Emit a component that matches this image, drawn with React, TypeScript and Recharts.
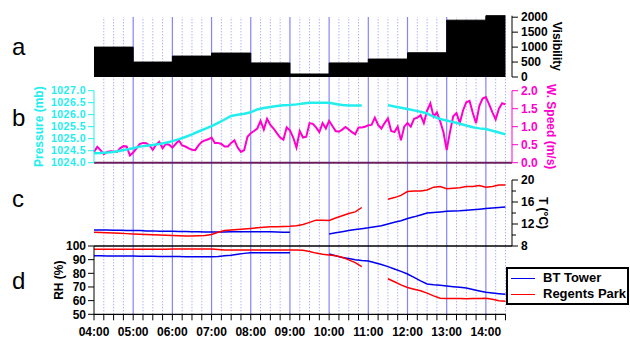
import { ComposedChart, Line, Area, XAxis, YAxis, ReferenceLine } from 'recharts';

const FONT = '"Liberation Sans", Arial, Helvetica, sans-serif';
const CYAN = '#22eeee';
const MAGENTA = '#ff00cc';
const BLUE = '#0000ee';
const RED = '#ff0000';
const PLUM = '#6b1f5f';

// time axis
const startTime = '04:00';
const endTime = '14:30';
const hourLabels = ['04:00', '05:00', '06:00', '07:00', '08:00', '09:00', '10:00', '11:00', '12:00', '13:00', '14:00'];

// hourly visibility (m)
const visibility = [1000, 500, 700, 800, 470, 100, 470, 600, 810, 1900, 2050];

// wind speed (m/s), 5-minute samples from 04:00
const windSpeed = [
    0.30, 0.44, 0.35, 0.24, 0.30, 0.32, 0.31, 0.30, 0.40, 0.46, 0.45, 0.20,
    0.28, 0.40, 0.52, 0.55, 0.54, 0.48, 0.36, 0.50, 0.58, 0.40, 0.52, 0.50,
    0.42, 0.52, 0.62, 0.48, 0.45, 0.40, 0.36, 0.35, 0.48, 0.58, 0.62, 0.65,
    0.70, 0.55, 0.55, 0.52, 0.45, 0.45, 0.55, 0.62, 0.42, 0.30, 0.35, 0.72,
    0.82, 0.88, 0.95, 1.16, 0.92, 1.22, 1.05, 0.95, 0.82, 0.70, 0.64, 0.98,
    0.90, 0.70, 0.42, 0.88, 0.70, 0.72, 1.10, 1.08, 0.98, 0.85, 1.10, 0.95,
    1.16, 1.02, 0.88, 0.86, 0.92, 0.99, 0.92, 0.85, 0.79, 0.98, 0.98, 1.00,
    1.04, 1.05, 1.25, 1.05, 0.95, 1.10, 1.23, 0.88, 0.85, 1.00, 0.62, 1.00,
    1.10, 1.00, 1.22, 1.25, 1.32, 1.10, 1.45, 1.65, 1.28, 1.40, 1.15, 0.85,
    0.35, 0.85, 1.29, 1.38, 1.10, 1.45, 1.68, 1.72, 1.38, 1.10, 1.58, 1.78,
    1.82, 1.62, 1.40, 1.20, 1.50, 1.65, 1.62,
];

// 10-minute samples from 04:00, one row per hour
const pressure = [
    1024.39, 1024.40, 1024.42, 1024.45, 1024.50, 1024.55,
    1024.60, 1024.67, 1024.71, 1024.74, 1024.78, 1024.83,
    1024.90, 1024.98, 1025.07, 1025.18, 1025.30, 1025.41,
    1025.52, 1025.66, 1025.80, 1025.95, 1026.00, 1026.04,
    1026.10, 1026.22, 1026.28, 1026.32, 1026.36, 1026.39,
    1026.40, 1026.43, 1026.47, 1026.50, 1026.50, 1026.50,
    1026.50, 1026.45, 1026.40, 1026.38, 1026.38, 1026.38,
    null, null, null, 1026.40, 1026.34, 1026.29,
    1026.24, 1026.18, 1026.12, 1026.05, 1025.92, 1025.82,
    1025.76, 1025.69, 1025.62, 1025.55, 1025.48, 1025.43,
    1025.40, 1025.33, 1025.26, 1025.18,
];

const btTowerT = [
    10.9, 10.9, 10.9, 10.85, 10.85, 10.8,
    10.8, 10.8, 10.75, 10.75, 10.7, 10.7,
    10.7, 10.65, 10.65, 10.6, 10.6, 10.55,
    10.55, 10.55, 10.55, 10.6, 10.6, 10.6,
    10.6, 10.6, 10.6, 10.6, 10.55, 10.5,
    10.5, null, null, null, null, null,
    10.2, 10.4, 10.6, 10.8, 11.0, 11.15,
    11.3, 11.5, 11.7, 12.0, 12.3, 12.6,
    13.0, 13.3, 13.65, 14.0, 14.1, 14.2,
    14.3, 14.35, 14.4, 14.5, 14.6, 14.7,
    14.8, 14.9, 15.0, 15.1,
];

const regentsParkT = [
    10.5, 10.45, 10.4, 10.35, 10.3, 10.25,
    10.2, 10.15, 10.1, 10.05, 10.0, 9.95,
    9.9, 9.85, 9.8, 9.8, 9.85, 9.9,
    10.1, 10.5, 10.8, 10.9, 11.0, 11.1,
    11.2, 11.3, 11.4, 11.5, 11.5, 11.55,
    11.6, 11.7, 11.9, 12.3, 12.7, 12.7,
    12.65, 13.1, 13.5, 13.9, 14.2, 15.0,
    null, null, null, 16.5, 16.8, 17.2,
    17.9, 18.0, 18.0, 18.2, 18.7, 18.8,
    18.4, 18.5, 18.6, 18.8, 18.8, 19.0,
    18.7, 18.8, 19.1, 19.1,
];

const btTowerRH = [
    92.8, 92.8, 92.7, 92.7, 92.6, 92.6,
    92.6, 92.5, 92.5, 92.5, 92.4, 92.4,
    92.3, 92.3, 92.2, 92.2, 92.2, 92.2,
    92.2, 92.4, 92.8, 93.3, 94.0, 94.6,
    95.0, 95.1, 95.1, 95.1, 95.1, 95.1,
    95.1, null, null, null, null, null,
    94.1, 92.8, 91.5, 90.8, 90.0, 89.4,
    89.0, 87.8, 86.4, 84.9, 83.2, 81.4,
    79.5, 77.0, 74.5, 72.2, 71.6, 71.2,
    70.7, 70.2, 69.8, 69.3, 68.2, 67.1,
    66.1, 65.6, 65.1, 64.6,
];

const regentsParkRH = [
    97.6, 97.6, 97.6, 97.6, 97.6, 97.6,
    97.6, 97.7, 97.7, 97.7, 97.7, 97.7,
    97.8, 97.8, 97.8, 97.8, 97.8, 97.8,
    97.8, 97.5, 97.1, 97.0, 97.0, 97.0,
    97.0, 97.0, 97.0, 97.0, 97.0, 97.0,
    97.0, 97.0, 96.8, 96.0, 94.8, 94.0,
    93.4, 92.8, 91.8, 89.8, 87.8, 84.9,
    null, null, null, 76.0, 73.8, 71.5,
    69.6, 68.4, 67.2, 65.5, 63.5, 61.7,
    61.5, 61.5, 61.6, 61.4, 61.5, 61.6,
    61.7, 61.0, 59.9, 59.5,
];

const toMin = (t: string) => {
    const [h, m] = t.split(':').map(Number);
    return h * 60 + m;
};

const t0 = toMin(startTime);
const t1 = toMin(endTime);
// a little room past the last sample before the right-hand axes
const xDomain = [t0, t1 + 10];
const quarters = Array.from({ length: (t1 - t0) / 15 + 1 }, (_, i) => t0 + i * 15);

const visData = [
    ...hourLabels.map((h, i) => ({ t: toMin(h), vis: visibility[i] })),
    { t: t1, vis: visibility[visibility.length - 1] },
];
const windData = windSpeed.map((v, i) => ({ t: t0 + i * 5, wind: v }));
const tenMin = pressure.map((p, i) => ({
    t: t0 + i * 10,
    pressure: p,
    btT: btTowerT[i],
    rpT: regentsParkT[i],
    btRH: btTowerRH[i],
    rpRH: regentsParkRH[i],
}));

const W = 630;
const H = 338;
const frame = { position: 'absolute', left: 0, top: 0 } as const;
const tickStyle = (fill: string, fontSize = 12) => ({ fill, fontSize, fontWeight: 700, fontFamily: FONT });

const axisTitle = (text: string, dx: number, color: string, angle: number) => (props: any) => {
    const vb = props.viewBox;
    const cx = vb.x + dx;
    const cy = vb.y + vb.height / 2;
    return (
        <text
            x={cx}
            y={cy}
            transform={`rotate(${angle} ${cx} ${cy})`}
            textAnchor="middle"
            dominantBaseline="central"
            fill={color}
            fontSize={12}
            fontWeight={700}
            fontFamily={FONT}
        >
            {text}
        </text>
    );
};

// temperature axis: labelled major ticks every 4 degC, short minor ticks between
const TempTick = (props: any) => {
    const { x, y, payload } = props;
    const major = payload.value % 4 === 0;
    const ax = x - 9;
    return (
        <g>
            <line x1={ax} x2={ax + (major ? 6 : 4)} y1={y} y2={y} stroke="#000" />
            {major && (
                <text x={x} y={y} dy="0.35em" textAnchor="start" {...tickStyle('#000')}>
                    {payload.value}
                </text>
            )}
        </g>
    );
};

const panelLetter = (letter: string, top: number) => (
    <span
        style={{
            position: 'absolute',
            left: 12,
            top,
            fontFamily: FONT,
            fontSize: 24,
            lineHeight: '24px',
            color: '#000',
        }}
    >
        {letter}
    </span>
);

export default function App() {
    return (
        <div style={{ position: 'fixed', left: 0, top: 0, width: W, height: H, background: '#fff', overflow: 'hidden' }}>
            {/* shared time grid behind all panels */}
            <ComposedChart width={W} height={H} data={visData} margin={{ top: 17, right: 118, bottom: 23.7, left: 94 }} style={frame}>
                <XAxis type="number" dataKey="t" domain={xDomain} hide />
                <YAxis domain={[0, 2050]} hide />
                <Line dataKey="vis" stroke="none" dot={false} isAnimationActive={false} />
                {quarters.slice(1).map((q) => (
                    <ReferenceLine
                        key={q}
                        x={q}
                        stroke={q % 60 === 0 ? '#8484ff' : '#8c8cff'}
                        strokeWidth={q % 60 === 0 ? 1.2 : 1}
                        strokeDasharray={q % 60 === 0 ? undefined : '1 2'}
                    />
                ))}
            </ComposedChart>

            {/* a: visibility */}
            <ComposedChart width={W} height={H} data={visData} margin={{ top: 15.7, right: 0, bottom: 261, left: 94 }} style={frame}>
                <XAxis type="number" dataKey="t" domain={xDomain} hide />
                <YAxis
                    orientation="right"
                    width={118}
                    domain={[0, 2050]}
                    ticks={[0, 500, 1000, 1500, 2000]}
                    interval={0}
                    stroke="#000"
                    tickSize={6}
                    tickMargin={3}
                    tick={tickStyle('#000')}
                    label={{ content: axisTitle('Visibility', 45, '#000', 90) }}
                />
                <Area type="stepAfter" dataKey="vis" stroke="#000" fill="#000" fillOpacity={1} isAnimationActive={false} />
            </ComposedChart>

            {/* b: pressure and wind speed */}
            <ComposedChart width={W} height={H} margin={{ top: 90.7, right: 0, bottom: 175.3, left: 0 }} style={frame}>
                <XAxis type="number" dataKey="t" domain={xDomain} hide />
                <YAxis
                    yAxisId="p"
                    width={94}
                    domain={[1024, 1027]}
                    ticks={[1024, 1024.5, 1025, 1025.5, 1026, 1026.5, 1027]}
                    interval={0}
                    tickFormatter={(v: number) => v.toFixed(1)}
                    stroke={CYAN}
                    tickSize={6}
                    tickMargin={2}
                    tick={{ ...tickStyle(CYAN, 10.5), letterSpacing: 0.5 }}
                    label={{ content: axisTitle('Pressure (mb)', 39, CYAN, -90) }}
                />
                <YAxis
                    yAxisId="w"
                    orientation="right"
                    width={118}
                    domain={[0, 2]}
                    ticks={[0, 0.5, 1, 1.5, 2]}
                    interval={0}
                    tickFormatter={(v: number) => v.toFixed(1)}
                    stroke={MAGENTA}
                    tickSize={6}
                    tickMargin={3}
                    tick={tickStyle(MAGENTA)}
                    label={{ content: axisTitle('W. Speed (m/s)', 39, MAGENTA, 90) }}
                />
                <ReferenceLine yAxisId="p" y={1024} stroke={PLUM} strokeWidth={2} />
                <Line yAxisId="w" data={windData} dataKey="wind" type="linear" stroke={MAGENTA} strokeWidth={2} dot={false} isAnimationActive={false} />
                <Line yAxisId="p" data={tenMin} dataKey="pressure" type="linear" stroke={CYAN} strokeWidth={2.5} dot={false} isAnimationActive={false} />
            </ComposedChart>

            {/* c: temperature */}
            <ComposedChart width={W} height={H} data={tenMin} margin={{ top: 180, right: 0, bottom: 92, left: 94 }} style={frame}>
                <XAxis type="number" dataKey="t" domain={xDomain} hide />
                <YAxis
                    orientation="right"
                    width={118}
                    domain={[8, 20]}
                    ticks={[8, 10, 12, 14, 16, 18, 20]}
                    interval={0}
                    stroke="#000"
                    tickLine={false}
                    tickSize={6}
                    tickMargin={3}
                    tick={<TempTick />}
                    label={{ content: axisTitle('T (°C)', 31, '#000', 90) }}
                />
                <ReferenceLine y={8} stroke="#000" strokeWidth={1.5} />
                <Line dataKey="btT" type="linear" stroke={BLUE} strokeWidth={1.5} dot={false} isAnimationActive={false} />
                <Line dataKey="rpT" type="linear" stroke={RED} strokeWidth={1.5} dot={false} isAnimationActive={false} />
            </ComposedChart>

            {/* d: relative humidity */}
            <ComposedChart width={W} height={H} data={tenMin} margin={{ top: 246, right: 118, bottom: 0, left: 0 }} style={frame}>
                <XAxis
                    type="number"
                    dataKey="t"
                    domain={xDomain}
                    ticks={quarters}
                    interval={0}
                    height={23.7}
                    axisLine={false}
                    stroke="#000"
                    tickSize={6}
                    tickMargin={7}
                    tick={tickStyle('#000')}
                    tickFormatter={(v: number) => ((v - t0) % 60 === 0 ? hourLabels[(v - t0) / 60] : '')}
                />
                <YAxis
                    width={94}
                    domain={[50, 100]}
                    ticks={[50, 60, 70, 80, 90, 100]}
                    interval={0}
                    stroke="#000"
                    tickSize={6}
                    tickMargin={2}
                    tick={tickStyle('#000')}
                    label={{ content: axisTitle('RH (%)', 59, '#000', -90) }}
                />
                <ReferenceLine segment={[{ x: t0, y: 50 }, { x: t1, y: 50 }]} stroke="#000" strokeWidth={1.2} />
                <Line dataKey="btRH" type="linear" stroke={BLUE} strokeWidth={1.5} dot={false} isAnimationActive={false} />
                <Line dataKey="rpRH" type="linear" stroke={RED} strokeWidth={1.5} dot={false} isAnimationActive={false} />
            </ComposedChart>

            {panelLetter('a', 34.7)}
            {panelLetter('b', 105.7)}
            {panelLetter('c', 186.7)}
            {panelLetter('d', 268.7)}

            <div
                style={{
                    position: 'absolute',
                    left: 506,
                    top: 267,
                    width: 123,
                    height: 38,
                    boxSizing: 'border-box',
                    border: '2px solid #000',
                    background: '#fff',
                    fontFamily: FONT,
                    fontSize: 13,
                    fontWeight: 700,
                }}
            >
                {[
                    { name: 'BT Tower', color: BLUE, top: 9 },
                    { name: 'Regents Park', color: RED, top: 25 },
                ].map((item) => (
                    <div key={item.name} style={{ position: 'absolute', left: 0, top: item.top - 8, height: 16, display: 'flex', alignItems: 'center' }}>
                        <span style={{ display: 'inline-block', marginLeft: 3, width: 24, borderTop: `1.5px solid ${item.color}` }} />
                        <span style={{ marginLeft: 8, lineHeight: '16px', whiteSpace: 'nowrap' }}>{item.name}</span>
                    </div>
                ))}
            </div>
        </div>
    );
}
